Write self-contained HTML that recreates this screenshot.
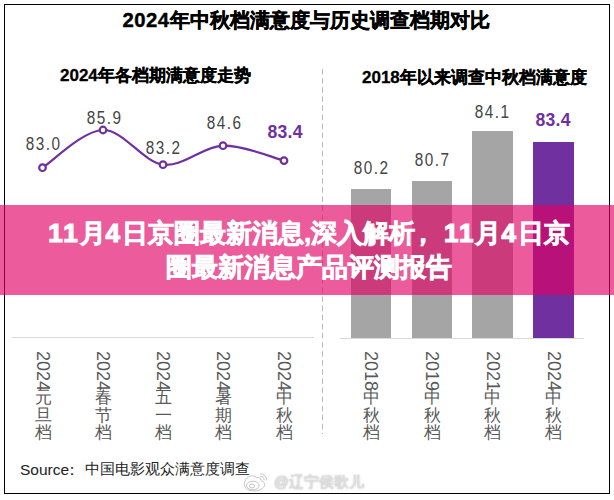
<!DOCTYPE html>
<html>
<head>
<meta charset="utf-8">
<style>
html,body{margin:0;padding:0;}
body{width:614px;height:500px;position:relative;overflow:hidden;background:#fff;font-family:"Liberation Sans",sans-serif;}
.abs{position:absolute;white-space:nowrap;}
.frame{position:absolute;left:4px;top:4px;width:604px;height:488px;border:1px solid #000;}
.title{left:-1px;width:614px;text-align:center;top:6px;font-size:20.3px;font-weight:bold;color:#000;line-height:28px;-webkit-text-stroke:0.4px #000;}
.sub{font-size:17px;font-weight:bold;color:#000;line-height:20px;-webkit-text-stroke:0.3px #000;}
.num{font-size:17.6px;letter-spacing:1.7px;text-indent:1.7px;color:#454545;line-height:20px;text-align:center;width:60px;transform:scaleX(0.87);}
.num.hl{color:#7030A0;font-weight:bold;letter-spacing:0.3px;text-indent:0.3px;transform:none;}
.vl{position:absolute;top:349px;width:0;height:0;color:#595959;}
.vl .d{position:absolute;left:10px;top:1.5px;transform:rotate(90deg);transform-origin:0 0;font-size:18px;line-height:20px;white-space:nowrap;}
.vl .c{position:absolute;left:-8.5px;top:40px;width:17px;font-size:17px;line-height:17.5px;}
.src{left:20px;top:459.5px;font-size:15.5px;color:#222;line-height:20px;}
.band{position:absolute;left:0;top:205px;width:614px;height:90px;background:rgba(226,0,100,0.64);}
.btxt{position:absolute;left:0;top:216px;width:614px;text-align:center;color:#fff;font-weight:bold;font-size:26px;line-height:34px;-webkit-text-stroke:0.7px #fff;}
.dg{letter-spacing:1.9px;-webkit-text-stroke:1.2px #fff;}
.wm{left:274px;top:473px;font-size:14.5px;line-height:18px;color:#e2e2e2;text-shadow:0 0 1.5px #b0b0b0,0 0 3px #ddd;}
</style>
</head>
<body>
<div class="frame"></div>
<div class="abs title"><span style="letter-spacing:0.5px">2024</span>年中秋档满意度与历史调查档期对比</div>
<div class="abs sub" style="left:60px;top:65.5px;">2024年各档期满意度走势</div>
<div class="abs sub" style="left:362px;top:67.5px;">2018年以来调查中秋档满意度</div>

<svg class="abs" style="left:0;top:0;" width="614" height="500" viewBox="0 0 614 500">
  <line x1="322.5" y1="69" x2="322.5" y2="434" stroke="#B8B8B8" stroke-width="1" stroke-dasharray="5.5 3.6"/>
  <line x1="12" y1="337.5" x2="314" y2="337.5" stroke="#D9D9D9" stroke-width="1"/>
  <line x1="340" y1="338.5" x2="584" y2="338.5" stroke="#D9D9D9" stroke-width="1"/>
  <path d="M42.5,167.7 C52.6,161.4 82.9,130.5 103.0,130.0 C123.1,129.5 143.0,162.1 163.0,164.7 C183.0,167.3 202.8,146.4 223.0,145.7 C243.2,145.0 273.8,158.1 284.0,160.6" fill="none" stroke="#7030A0" stroke-width="2.2"/>
  <g fill="#fff" stroke="#7030A0" stroke-width="2.2">
    <circle cx="42.5" cy="167.7" r="3.3"/>
    <circle cx="103" cy="130" r="3.3"/>
    <circle cx="163" cy="164.7" r="3.3"/>
    <circle cx="223" cy="145.7" r="3.3"/>
    <circle cx="284" cy="160.6" r="3.3"/>
  </g>
  <rect x="351" y="189" width="40" height="149" fill="#A5A5A5"/>
  <rect x="412" y="181" width="40" height="157" fill="#A5A5A5"/>
  <rect x="472" y="131" width="41" height="207" fill="#A5A5A5"/>
  <rect x="533" y="142" width="41" height="196" fill="#7030A0"/>
</svg>

<div class="abs num" style="left:13px;top:134px;">83.0</div>
<div class="abs num" style="left:74px;top:108px;">85.9</div>
<div class="abs num" style="left:133px;top:138px;">83.2</div>
<div class="abs num" style="left:194px;top:113px;">84.6</div>
<div class="abs num hl" style="left:255px;top:122px;">83.4</div>

<div class="abs num" style="left:341px;top:158px;">80.2</div>
<div class="abs num" style="left:402px;top:150px;">80.7</div>
<div class="abs num" style="left:462px;top:102px;">84.1</div>
<div class="abs num hl" style="left:523px;top:110px;">83.4</div>

<div class="vl" style="left:43px;"><div class="d">2024</div><div class="c">元<br>旦<br>档</div></div>
<div class="vl" style="left:103px;"><div class="d">2024</div><div class="c">春<br>节<br>档</div></div>
<div class="vl" style="left:163px;"><div class="d">2024</div><div class="c">五<br>一<br>档</div></div>
<div class="vl" style="left:223px;"><div class="d">2024</div><div class="c">暑<br>期<br>档</div></div>
<div class="vl" style="left:284px;"><div class="d">2024</div><div class="c">中<br>秋<br>档</div></div>
<div class="vl" style="left:371px;"><div class="d">2018</div><div class="c">中<br>秋<br>档</div></div>
<div class="vl" style="left:432px;"><div class="d">2019</div><div class="c">中<br>秋<br>档</div></div>
<div class="vl" style="left:492.5px;"><div class="d">2021</div><div class="c">中<br>秋<br>档</div></div>
<div class="vl" style="left:553.5px;"><div class="d">2024</div><div class="c">中<br>秋<br>档</div></div>

<div class="abs src"><span>Source</span><span style="position:absolute;left:44px;top:0;">：</span><span style="position:absolute;left:65px;top:-0.5px;font-size:15px;">中国电影观众满意度调查</span></div>
<svg class="abs" style="left:240px;top:466px;" width="32" height="28" viewBox="240 466 32 28">
  <g fill="none" stroke="#c4c4c4" stroke-width="1">
    <path d="M256.5,477.5 C253,474 247,476 244.8,481.5 C243,486 246,491 254,491 C261,491 265.5,487 264.5,483.5 C264,481.5 261.5,481 261,480.5 C261.5,478.5 259.5,477 256.5,477.5 Z"/>
    <ellipse cx="252.8" cy="485.5" rx="6.3" ry="4.3"/>
    <ellipse cx="252" cy="486" rx="2.6" ry="2"/>
    <path d="M260.2,473.8 A6.5,6.5 0 0 1 266.8,480.4"/>
    <path d="M260.2,476.3 A3.8,3.8 0 0 1 264.2,480.2"/>
  </g>
</svg>
<div class="abs wm">@辽宁侯歌儿</div>

<div class="band"></div>
<div class="btxt"><span style="position:relative;left:2px;"><span class="dg">11</span>月<span class="dg">4</span>日京圈最新消息,深入解析<span style="position:relative;left:-5px;margin-right:3px">，</span><span class="dg">11</span>月<span class="dg">4</span>日京</span><br><span style="position:relative;left:2px;">圈最新消息产品评测报告</span></div>
</body>
</html>
